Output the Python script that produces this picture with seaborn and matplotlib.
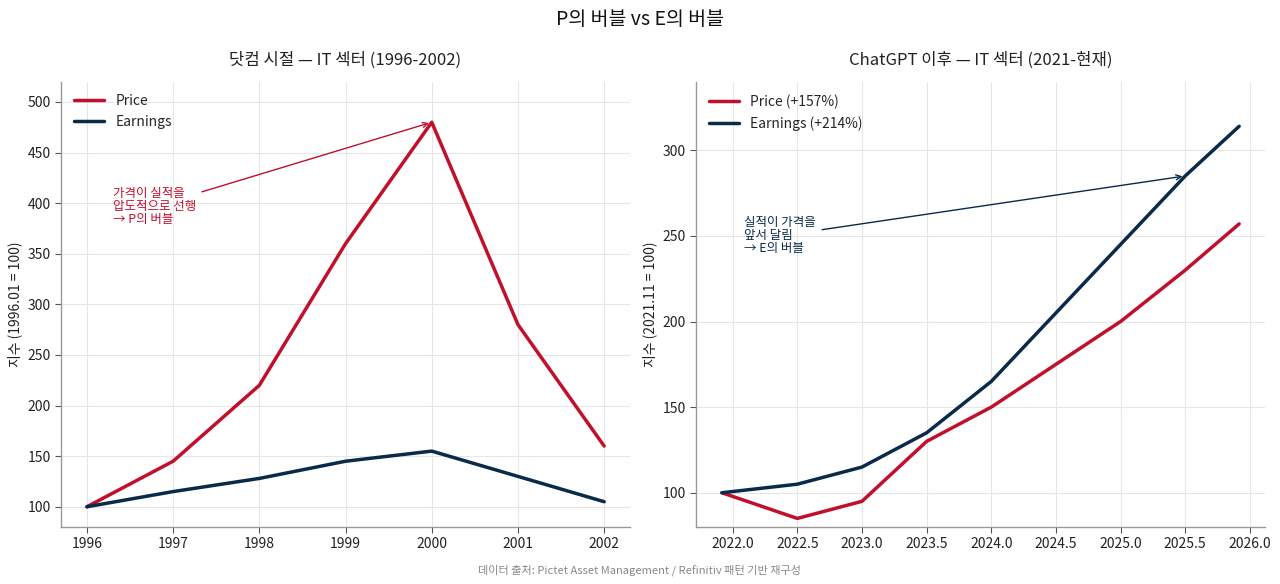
import matplotlib
matplotlib.use("Agg")
import matplotlib.pyplot as plt
import seaborn as sns
import pandas as pd

# ---- data ----
dot_years = [1996, 1997, 1998, 1999, 2000, 2001, 2002]
dot_price = [100, 145, 220, 360, 480, 280, 160]
dot_earn = [100, 115, 128, 145, 155, 130, 105]

ai_x = [2021.917, 2022.5, 2023.0, 2023.5, 2024.0, 2024.5, 2025.0, 2025.5, 2025.917]
ai_price = [100, 85, 95, 130, 150, 175, 200, 230, 257]
ai_earn = [100, 105, 115, 135, 165, 205, 245, 285, 314]

RED = "#C0102B"
NAVY = "#0A2A4A"

sns.set_theme(style="whitegrid")
plt.rcParams['font.family'] = ['Noto Sans CJK KR', 'DejaVu Sans']
plt.rcParams['axes.unicode_minus'] = False

fig = plt.figure(figsize=(12.8, 5.84), dpi=100)
ax1 = fig.add_axes([0.0477, 0.0976, 0.4445, 0.7624])
ax2 = fig.add_axes([0.5438, 0.0976, 0.4445, 0.7624])

df1 = pd.DataFrame({"x": dot_years, "Price": dot_price, "Earnings": dot_earn})
df2 = pd.DataFrame({"x": ai_x, "Price": ai_price, "Earnings": ai_earn})

sns.lineplot(data=df1, x="x", y="Price", ax=ax1, color=RED, lw=2.5, label="Price")
sns.lineplot(data=df1, x="x", y="Earnings", ax=ax1, color=NAVY, lw=2.5, label="Earnings")
sns.lineplot(data=df2, x="x", y="Price", ax=ax2, color=RED, lw=2.5, label="Price (+157%)")
sns.lineplot(data=df2, x="x", y="Earnings", ax=ax2, color=NAVY, lw=2.5, label="Earnings (+214%)")

ax1.set_ylim(80, 520)
ax2.set_ylim(80, 340)

for ax in (ax1, ax2):
    ax.set_facecolor("white")
    ax.grid(True, color="#e6e6e6", lw=0.8)
    for s in ("top", "right"):
        ax.spines[s].set_visible(False)
    for s in ("left", "bottom"):
        ax.spines[s].set_color("#999999")
        ax.spines[s].set_linewidth(1.0)
    ax.tick_params(axis="both", which="both", length=4, width=0.8, color="#555555",
                   labelsize=10, labelcolor="#222222", bottom=True, left=True)
    ax.set_xlabel("")
    leg = ax.legend(loc="upper left", frameon=False, fontsize=10, handlelength=2.2)

ax1.set_xticks(dot_years)
ax1.set_ylabel("지수 (1996.01 = 100)", fontsize=10, color="#222222")
ax2.set_ylabel("지수 (2021.11 = 100)", fontsize=10, color="#222222")

ax1.set_title("닷컴 시절 — IT 섹터 (1996-2002)", fontsize=12, pad=12, color="#222222")
ax2.set_title("ChatGPT 이후 — IT 섹터 (2021-현재)", fontsize=12, pad=12, color="#222222")

ax1.annotate("가격이 실적을\n압도적으로 선행\n→ P의 버블", xy=(2000, 480), xytext=(1996.3, 397),
             fontsize=9, color=RED, ha="left", va="center", linespacing=1.0,
             arrowprops=dict(arrowstyle="->", color=RED, lw=1.0))
ax2.annotate("실적이 가격을\n앞서 달림\n→ E의 버블", xy=(2025.5, 285), xytext=(2022.09, 250),
             fontsize=9, color=NAVY, ha="left", va="center", linespacing=1.0,
             arrowprops=dict(arrowstyle="->", color=NAVY, lw=1.0))

fig.suptitle("P의 버블 vs E의 버블", fontsize=14, y=0.985, color="#111111")
fig.text(0.5, 0.018, "데이터 출처: Pictet Asset Management / Refinitiv 패턴 기반 재구성",
         ha="center", fontsize=8, color="#888888")

fig.savefig("out.png", dpi=100)
